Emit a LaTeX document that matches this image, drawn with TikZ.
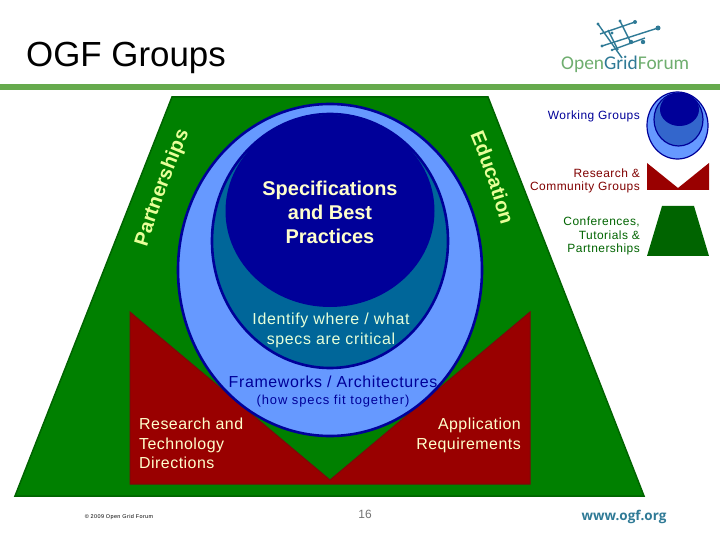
\documentclass[tikz,border=0pt]{standalone}
\usepackage{fontspec}
\setmainfont{Liberation Sans}
\newfontfamily\logofont{Carlito}
\newfontfamily\wwwfont{Open Sans}
\usetikzlibrary{decorations.text}
\definecolor{ogfbar}{HTML}{66AA4D}
\definecolor{trapfill}{HTML}{008000}
\definecolor{trapedge}{HTML}{006400}
\definecolor{redfill}{HTML}{990000}
\definecolor{rededge}{HTML}{7A0A0A}
\definecolor{navyedge}{HTML}{000099}
\definecolor{lightblue}{HTML}{6699FF}
\definecolor{tealblue}{HTML}{006699}
\definecolor{legendmid}{HTML}{3366CC}
\definecolor{cream}{HTML}{FFFFCC}
\definecolor{paleyellow}{HTML}{E8FF99}
\definecolor{pale}{HTML}{E6FFD9}
\definecolor{logoteal}{HTML}{2F7A96}
\definecolor{logogreen}{HTML}{6FAE6F}
\definecolor{darkgreen}{HTML}{006400}
\definecolor{darkred}{HTML}{800000}
\newcommand{\fsz}[1]{\fontsize{#1}{#1}\selectfont}
\newcommand{\spc}[1]{\addfontfeature{LetterSpace=#1}}
\newcommand{\arcfont}{\fsz{20}\bfseries\color{paleyellow}}
\tikzset{
  x=1bp,y=-1bp,
  trap/.style={fill=trapfill,draw=trapedge,line width=1.5bp,line join=miter},
  redpoly/.style={fill=redfill,draw=rededge,line width=1bp},
  ring/.style={draw=navyedge,line width=2.6bp},
  lring/.style={draw=navyedge,line width=1.2bp},
  txt/.style={inner sep=0pt,align=center,anchor=center},
  legendtxt/.style={inner sep=0pt,align=right,anchor=east,font=\fsz{12}\spc{4}},
  logoline/.style={draw=logoteal,line width=1.4bp},
  logodot/.style={fill=logoteal},
}
\begin{document}
\begin{tikzpicture}
\useasboundingbox (0,0) rectangle (720,540);
\fill[white] (0,0) rectangle (720,540);
% header
\fill[ogfbar] (0,84) rectangle (720,90);
\node[inner sep=0pt,anchor=base west,font=\fsz{35}] (title) at (26,66.5) {OGF Groups};
% logo
\foreach \a/\b/\c/\d in {598/24/622/58,620/21/631/43,608/30/618/50,602/46/658/28,600/34/635/22,612/50/645/38}
  \draw[logoline] (\a,\b) -- (\c,\d);
\foreach \a/\b/\r in {598/24/1.7,620/21/1.7,635/22/2,658/28/2.5,643/42/2.2,631/42/2.2,612/33/1.7,602/46/1.7,612/50/1.4}
  \fill[logodot] (\a,\b) circle (\r);
\node[inner sep=0pt,anchor=base west,font=\logofont\fsz{19.5}] (logo) at (561,70)
  {\color{logogreen}Open\color{logoteal}Grid\color{logogreen}Forum};
% main trapezoid
\path[trap] (172,97) -- (488,97) -- (644,496) -- (15,496) -- cycle;
\path[redpoly] (130,312) -- (330,480) -- (530,312) -- (530,484) -- (130,484) -- cycle;
\path[ring,fill=lightblue] (330,270) ellipse (152 and 166);
\path[ring,fill=tealblue] (330,241) ellipse (118 and 127);
\path[fill=navyedge] (330,211) ellipse (104.5 and 96);
% arc labels
\path[decorate,decoration={text along path,text align=center,text={|\arcfont|Partnerships}}]
  (146,250) .. controls (158,210) and (172,172) .. (190,130);
\path[decorate,decoration={text along path,text align=center,text={|\arcfont|Education}}]
  (469,132) .. controls (481,160) and (493,195) .. (502,228);
% main labels
\node[txt,font=\fsz{20}\bfseries,text=cream,align=center] (spec) at (330,212) {Specifications\\[4pt]and Best\\[4pt]Practices};
\node[txt,font=\fsz{16}\spc{4},text=pale] (ident) at (331,330) {Identify where / what\\[4pt]specs are critical};
\node[txt,font=\fsz{16}\spc{4},text=navyedge] (frame) at (333,382) {Frameworks / Architectures};
\node[txt,font=\fsz{13}\spc{7},text=navyedge] (how) at (333,401) {(how specs fit together)};
\node[inner sep=0pt,align=left,anchor=north west,font=\fsz{16}\spc{3},text=cream] (research) at (139,418)
  {Research and\\[3.5pt]Technology\\[3.5pt]Directions};
\node[inner sep=0pt,align=right,anchor=north east,font=\fsz{16}\spc{3},text=cream] (appl) at (521,418)
  {Application\\[3.5pt]Requirements};
% legend
\node[legendtxt,text=navyedge] (lw) at (640,116) {Working Groups};
\node[legendtxt,text=darkred] (lr) at (640,181) {Research \&\\[1.5pt]Community Groups};
\node[legendtxt,text=darkgreen] (lc) at (640,236) {Conferences,\\[1.5pt]Tutorials \&\\[1.5pt]Partnerships};
\path[lring,fill=lightblue] (677.5,125.5) ellipse (30.5 and 33.5);
\path[lring,fill=legendmid] (678.5,119.5) ellipse (24.5 and 26.5);
\path[fill=navyedge] (679.5,109.5) ellipse (19.5 and 16.5);
\path[fill=redfill] (647,163) -- (678,188) -- (709,163) -- (709,190) -- (647,190) -- cycle;
\path[fill=darkgreen] (662,206) -- (694,206) -- (709,256) -- (647,256) -- cycle;
% footer
\node[inner sep=0pt,anchor=center,font=\fsz{5.5}\spc{7}] (copy) at (119,517) {© 2009 Open Grid Forum};
\node[inner sep=0pt,anchor=center,font=\fsz{12},text=black!55] (page) at (365,514) {16};
\node[inner sep=0pt,anchor=center,font=\wwwfont\bfseries\fsz{13.5},text=logoteal] (www) at (624,517) {www.ogf.org};
\end{tikzpicture}
\end{document}
